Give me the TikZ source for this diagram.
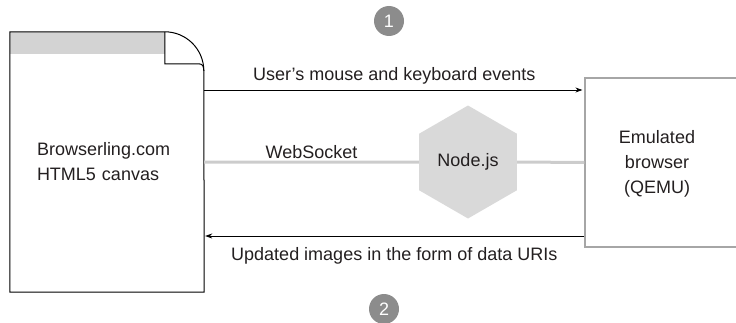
\documentclass[tikz,border=0pt]{standalone}
\usepackage{fontspec}
\setmainfont{Liberation Sans}
\usetikzlibrary{shapes.geometric, arrows.meta}

\definecolor{bandgray}{HTML}{D3D3D3}
\definecolor{hexgray}{HTML}{D9D9D9}
\definecolor{wsgray}{HTML}{CCCCCC}
\definecolor{boxgray}{HTML}{A6A6A6}
\definecolor{numgray}{HTML}{8C8C8C}
\definecolor{inkgray}{HTML}{231F20}

\tikzset{
	page/.style={draw=black, line width=1pt},
	flow/.style={-{Stealth[length=7pt, width=5pt]}, line width=0.8pt},
	wsline/.style={draw=wsgray, line width=3pt},
	numcircle/.style={circle, fill=numgray, text=white, minimum size=30pt, inner sep=0pt}
}

\begin{document}
\begin{tikzpicture}[x=1pt, y=1pt, font=\fontsize{18}{25}\selectfont, text=inkgray]

		\clip (0,0) rectangle (736,322);

		\node[minimum width=194pt, minimum height=260pt, inner xsep=27pt, text width=140pt, align=left] (canvas) at (107,160) {Browserling.com\\HTML5 canvas};
		\node[draw=boxgray, line width=1.2pt, minimum width=170pt, minimum height=169pt] (qemu) at (670,159.5) {};
		\node[align=center] (qemulabel) at (657,158) {Emulated\\browser\\(QEMU)};
		\node[regular polygon, regular polygon sides=6, shape border rotate=30, minimum size=113pt, inner sep=0pt, fill=hexgray] (nodejs) at (468,160) {Node.js};
		\node[numcircle] (num1) at (389,301) {1};
		\node[numcircle] (num2) at (384,13) {2};

		% page with folded corner
		\fill[bandgray] (canvas.north west) rectangle ([xshift=155pt, yshift=-22pt]canvas.north west);
		\draw[page] (canvas.south west) -- (canvas.north west) -- ++(155,0) coordinate (fold)
			arc[start angle=90, end angle=0, radius=39] -- (canvas.south east) -- cycle;
		\draw[page] (fold) -- ++(0,-32) -- ++(34,0) .. controls +(4,0) and +(0,4) .. ++(5,-7);

		\coordinate (evt) at (0,232);
		\coordinate (img) at (0,86);

		\draw[flow, shorten >=2pt] (canvas.east |- evt) -- (qemu.west |- evt) node[midway, above=2pt] (evtlabel) {User’s mouse and keyboard events};
		\draw[flow, shorten >=1pt] (qemu.west |- img) -- (canvas.east |- img) node[midway, below=8pt] (imglabel) {Updated images in the form of data URIs};
		\draw[wsline] (canvas.east) -- (nodejs.west) node[midway, above=-2pt] (wslabel) {WebSocket};
		\draw[wsline] (nodejs.east) -- (qemu.west);
	\end{tikzpicture}
\end{document}
